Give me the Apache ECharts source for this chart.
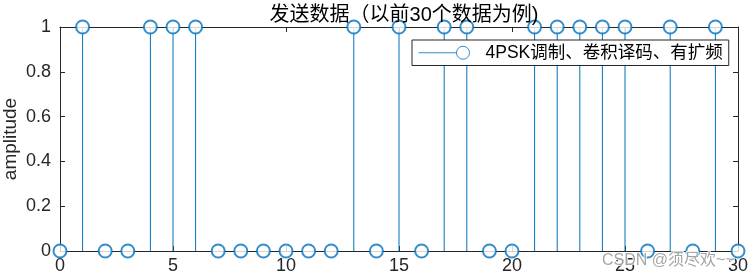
<!DOCTYPE html>
<html><head><meta charset="utf-8">
<script src="https://cdn.jsdelivr.net/npm/echarts@6/dist/echarts.min.js"></script>
<style>html,body{margin:0;padding:0;background:#fff}#c{width:750px;height:279px}</style>
</head><body><div id="c"></div>
<script>
const xValues = [0,1,2,3,4,5,6,7,8,9,10,11,12,13,14,15,16,17,18,19,20,21,22,23,24,25,26,27,28,29,30];
const amplitude = [0,1,0,0,1,1,1,0,0,0,0,0,0,1,0,1,0,1,1,0,0,1,1,1,1,1,0,1,0,1,0];
const xTicks = [0,5,10,15,20,25,30];
const yTicks = [0,0.2,0.4,0.6,0.8,1];
const seriesName = '4PSK调制、卷积译码、有扩频';
const titleText = '发送数据（以前30个数据为例)';
const yLabel = 'amplitude';
const watermark = 'CSDN @须尽欢~~';

const blue = '#0072BD';
const axisCol = '#262626';
const font = 'Arial, "Liberation Sans", "Noto Sans CJK SC", sans-serif';
const points = xValues.map((x, i) => [x, amplitude[i]]);

const chart = echarts.init(document.getElementById('c'), null, {renderer: 'canvas'});
const axisCommon = {
  type: 'value',
  axisLine: {show: true, onZero: false, lineStyle: {color: axisCol, width: 1}},
  axisTick: {show: true, inside: true, length: 5, lineStyle: {color: axisCol}},
  splitLine: {show: false}
};
chart.setOption({
  animation: false,
  title: {
    text: titleText, left: 399, textAlign: 'center', top: 0,
    textStyle: {fontFamily: font, fontSize: 20, fontWeight: 'normal', color: '#000'}
  },
  grid: {left: 60, right: 12, top: 27, bottom: 28, outerBoundsMode: 'none', containLabel: false},
  legend: {
    left: 412, top: 40, padding: [4, 6, 4, 6],
    orient: 'horizontal',
    borderColor: '#262626', borderWidth: 1, backgroundColor: '#fff', borderRadius: 0,
    itemWidth: 51, itemHeight: 13, itemGap: 0,
    textStyle: {fontFamily: font, fontSize: 17.5, color: '#000', padding: [0, 0, 0, 11]},
    data: [{
      name: seriesName,
      icon: 'path://M0,6.5 L38,6.5 M51,6.5 A6.5,6.5 0 1,1 51,6.49 Z',
      itemStyle: {color: 'transparent', borderColor: blue, borderWidth: 1}
    }]
  },
  xAxis: [
    Object.assign({}, axisCommon, {
      min: 0, max: 30, interval: 5, position: 'bottom',
      axisLabel: {fontFamily: font, fontSize: 18, color: axisCol, margin: 6,
        formatter: v => xTicks.includes(v) ? String(v) : ''}
    }),
    Object.assign({}, axisCommon, {
      min: 0, max: 30, interval: 5, position: 'top', axisLabel: {show: false}
    })
  ],
  yAxis: [
    Object.assign({}, axisCommon, {
      min: 0, max: 1, interval: 0.2, position: 'left',
      name: yLabel, nameLocation: 'middle', nameGap: 40, nameRotate: 90, nameMoveOverlap: false,
      nameTextStyle: {fontFamily: font, fontSize: 19, color: axisCol},
      axisLabel: {fontFamily: font, fontSize: 18, color: axisCol, margin: 9,
        formatter: v => { const t = yTicks.find(k => Math.abs(k - v) < 1e-9); return t === undefined ? '' : String(t); }}
    }),
    Object.assign({}, axisCommon, {
      min: 0, max: 1, interval: 0.2, position: 'right', axisLabel: {show: false}
    })
  ],
  series: [
    {
      type: 'custom', name: 'stems', xAxisIndex: 0, yAxisIndex: 0,
      data: points, silent: true, z: 2,
      renderItem: (params, api) => {
        const p0 = api.coord([api.value(0), 0]);
        const p1 = api.coord([api.value(0), api.value(1)]);
        return {type: 'line', shape: {x1: p0[0], y1: p0[1], x2: p1[0], y2: p1[1]},
          style: {stroke: blue, lineWidth: 1}};
      }
    },
    {
      type: 'scatter', name: seriesName, xAxisIndex: 0, yAxisIndex: 0,
      data: points, symbol: 'emptyCircle', symbolSize: 13, z: 3,
      itemStyle: {color: blue, borderColor: blue, borderWidth: 1}
    }
  ],
  graphic: [{
    type: 'text', left: 601, top: 252, z: 100,
    style: {text: watermark, fontFamily: font, fontSize: 16, fill: 'rgba(150,150,150,0.85)',
      stroke: 'rgba(255,255,255,0.8)', lineWidth: 2}
  }]
});
</script></body></html>
